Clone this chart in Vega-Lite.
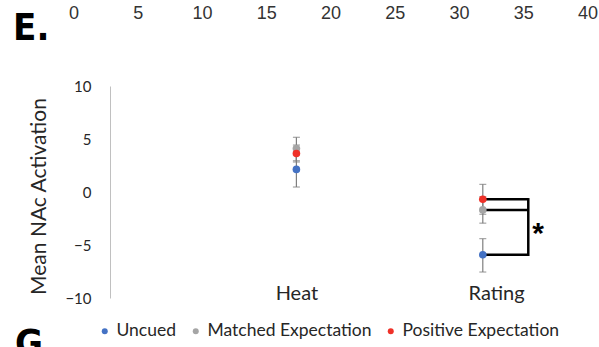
{
  "$schema": "https://vega.github.io/schema/vega-lite/v6.json",
  "width": 466,
  "height": 212,
  "autosize": {"type": "none"},
  "padding": {"left": 110, "top": 86, "right": 23, "bottom": 49},
  "background": "white",
  "config": {"view": {"stroke": null}, "font": "Lato"},
  "datasets": {
    "pts": [
      {"measure": "Heat", "pos": 1, "group": "Uncued", "mean": 2.13, "lo": 0.47, "hi": 3.79},
      {"measure": "Heat", "pos": 1, "group": "Matched Expectation", "mean": 4.1, "lo": 2.95, "hi": 5.16},
      {"measure": "Heat", "pos": 1, "group": "Positive Expectation", "mean": 3.63, "lo": 2.83, "hi": 4.43},
      {"measure": "Rating", "pos": 2, "group": "Uncued", "mean": -5.92, "lo": -7.55, "hi": -4.4},
      {"measure": "Rating", "pos": 2, "group": "Matched Expectation", "mean": -1.69, "lo": -2.94, "hi": -0.44},
      {"measure": "Rating", "pos": 2, "group": "Positive Expectation", "mean": -0.69, "lo": -2.1, "hi": 0.72}
    ],
    "ticks": [{"t": 0}, {"t": 5}, {"t": 10}, {"t": 15}, {"t": 20}, {"t": 25}, {"t": 30}, {"t": 35}, {"t": 40}]
  },
  "resolve": {"scale": {"x": "independent"}, "axis": {"x": "independent"}},
  "layer": [
    {
      "layer": [
        {
          "data": {"name": "pts"},
          "mark": {"type": "rule", "color": "#7f7f7f", "strokeWidth": 1.2},
          "encoding": {
            "x": {
              "field": "pos", "type": "quantitative",
              "scale": {"domain": [0, 2.5], "nice": false, "zero": false},
              "axis": {
                "values": [1, 2.071],
                "labelExpr": "datum.value < 1.5 ? 'Heat' : 'Rating'",
                "domain": false, "ticks": false, "grid": false,
                "labelFlush": false,
                "labelFontSize": 20, "labelFont": "Lato", "labelColor": "#262626",
                "labelPadding": -5, "labelBaseline": "middle",
                "title": null
              }
            },
            "y": {
              "field": "lo", "type": "quantitative",
              "scale": {"domain": [-10, 10], "nice": false, "zero": false},
              "axis": {
                "values": [-10, -5, 0, 5, 10],
                "ticks": false, "tickSize": 0, "grid": false,
                "domainColor": "#c0c0c0", "domainWidth": 1,
                "labelFontSize": 15, "labelFont": "Lato", "labelColor": "#262626",
                "labelPadding": 19,
                "title": "Mean NAc Activation",
                "titleFontSize": 21, "titleFont": "Lato", "titleFontWeight": "normal",
                "titleColor": "#262626",
                "titleX": -65, "titleY": 110, "titleAngle": -90,
                "titleBaseline": "alphabetic", "titleAlign": "center"
              }
            },
            "y2": {"field": "hi"}
          }
        },
        {
          "data": {"name": "pts"},
          "mark": {"type": "tick", "orient": "horizontal", "color": "#7f7f7f", "size": 7, "thickness": 1.2},
          "encoding": {
            "x": {"field": "pos", "type": "quantitative"},
            "y": {"field": "lo", "type": "quantitative"}
          }
        },
        {
          "data": {"name": "pts"},
          "mark": {"type": "tick", "orient": "horizontal", "color": "#7f7f7f", "size": 7, "thickness": 1.2},
          "encoding": {
            "x": {"field": "pos", "type": "quantitative"},
            "y": {"field": "hi", "type": "quantitative"}
          }
        },
        {
          "data": {"name": "pts"},
          "transform": [{"filter": "datum.measure === 'Rating'"}],
          "mark": {"type": "rule", "color": "black", "strokeWidth": 2.5},
          "encoding": {
            "x": {"field": "pos", "type": "quantitative"},
            "x2": {"datum": 2.244},
            "y": {"field": "mean", "type": "quantitative"}
          }
        },
        {
          "data": {"name": "pts"},
          "transform": [
            {"filter": "datum.measure === 'Rating'"},
            {"aggregate": [{"op": "min", "field": "mean", "as": "lowest"}, {"op": "max", "field": "mean", "as": "highest"}]}
          ],
          "mark": {"type": "rule", "color": "black", "strokeWidth": 2.5, "strokeCap": "square"},
          "encoding": {
            "x": {"datum": 2.244},
            "y": {"field": "lowest", "type": "quantitative"},
            "y2": {"field": "highest"}
          }
        },
        {
          "data": {"name": "pts"},
          "mark": {"type": "circle", "size": 58, "opacity": 1},
          "encoding": {
            "x": {"field": "pos", "type": "quantitative"},
            "y": {"field": "mean", "type": "quantitative"},
            "color": {
              "field": "group", "type": "nominal",
              "scale": {
                "domain": ["Uncued", "Matched Expectation", "Positive Expectation"],
                "range": ["#4472C4", "#A5A5A5", "#EF3128"]
              },
              "legend": {
                "orient": "none", "legendX": -14, "legendY": 236,
                "direction": "horizontal", "title": null,
                "symbolType": "circle", "symbolSize": 36, "symbolStrokeWidth": 0,
                "labelFontSize": 17.5, "labelFont": "Lato", "labelColor": "#262626",
                "labelLimit": 0,
                "labelOffset": 3, "columnPadding": 10, "padding": 0
              }
            }
          }
        },
        {
          "data": {"values": [{"label": "*"}]},
          "mark": {"type": "text", "fontSize": 30, "fontWeight": "bold", "font": "Liberation Sans", "baseline": "middle", "align": "center", "dy": 7},
          "encoding": {
            "x": {"datum": 2.296},
            "y": {"datum": -3.26},
            "text": {"field": "label"}
          }
        },
        {
          "data": {"values": [{"label": "E."}]},
          "mark": {"type": "text", "fontSize": 38, "fontWeight": "bold", "font": "DejaVu Sans Condensed", "align": "left", "baseline": "alphabetic", "color": "black"},
          "encoding": {
            "x": {"datum": -0.52},
            "y": {"datum": 14.37},
            "text": {"field": "label"}
          }
        },
        {
          "data": {"values": [{"label": "G"}]},
          "mark": {"type": "text", "fontSize": 38, "fontWeight": "bold", "font": "DejaVu Sans Condensed", "align": "left", "baseline": "alphabetic", "color": "black"},
          "encoding": {
            "x": {"datum": -0.51},
            "y": {"datum": -15.5},
            "text": {"field": "label"}
          }
        }
      ]
    },
    {
      "data": {"name": "ticks"},
      "mark": {"type": "text", "fontSize": 18, "font": "Liberation Sans", "color": "#333333", "baseline": "middle", "align": "center"},
      "encoding": {
        "x": {"field": "t", "type": "quantitative", "scale": {"domain": [2.8, 39.07], "nice": false, "zero": false}, "axis": null},
        "y": {"datum": 16.8},
        "text": {"field": "t", "type": "quantitative"}
      }
    }
  ]
}
